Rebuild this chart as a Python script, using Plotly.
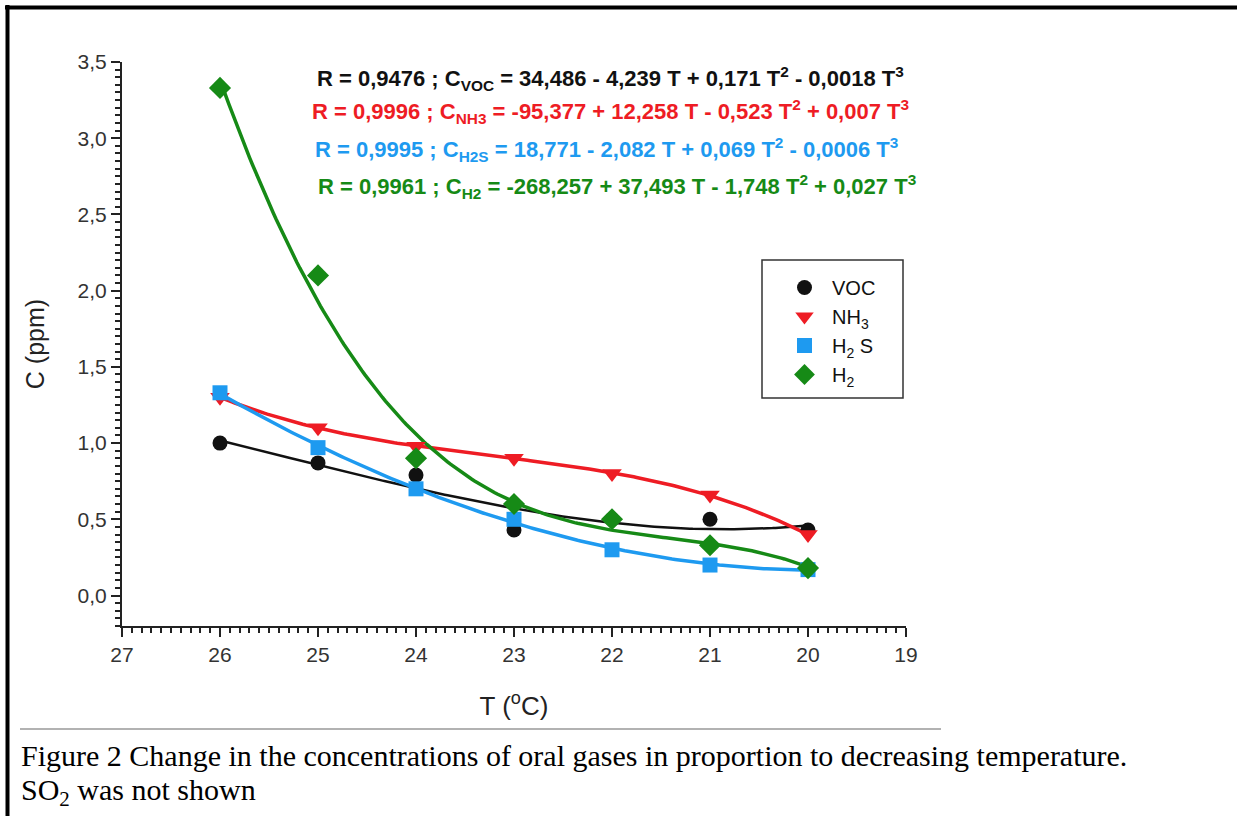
import numpy as np
import plotly.graph_objects as go

# ---- data ----
temperature = [26, 25, 24, 23, 22, 21, 20]
voc = [1.00, 0.87, 0.79, 0.43, 0.50, 0.50, 0.43]
nh3 = [1.30, 1.10, 0.98, 0.90, 0.80, 0.66, 0.40]
h2s = [1.33, 0.97, 0.70, 0.50, 0.30, 0.20, 0.17]
h2 = [3.33, 2.10, 0.90, 0.60, 0.50, 0.33, 0.18]

series_names = ["VOC", "NH<sub>3</sub>", "H<sub>2</sub> S", "H<sub>2</sub>"]
series_values = [voc, nh3, h2s, h2]
colors = ["#111111", "#ee1c24", "#1e9af0", "#168a16"]
symbols = ["circle", "triangle-down", "square", "diamond"]
marker_sizes = [15, 17, 15, 17]
line_widths = [2.5, 3.5, 3.5, 3.5]

equations = [
    "R = 0,9476 ; C<sub>VOC</sub> = 34,486 - 4,239 T + 0,171 T<sup>2</sup> - 0,0018 T<sup>3</sup>",
    "R = 0,9996 ; C<sub>NH3</sub> = -95,377 + 12,258 T - 0,523 T<sup>2</sup> + 0,007 T<sup>3</sup>",
    "R = 0,9995 ; C<sub>H2S</sub> = 18,771 - 2,082 T + 0,069 T<sup>2</sup> - 0,0006 T<sup>3</sup>",
    "R = 0,9961 ; C<sub>H2</sub> = -268,257 + 37,493 T - 1,748 T<sup>2</sup> + 0,027 T<sup>3</sup>",
]

# ---- layout geometry (pixels) ----
W, H = 1237, 816
L, R_, T_, B_ = 122, 906, 62, 626


def px(x):
    return (x - L) / (R_ - L)


def py(y):
    return (B_ - y) / (B_ - T_)


SANS = "Liberation Sans"
SERIF = "Liberation Serif"

fig = go.Figure()

# cubic regression curves (as in the original), computed from the data
t_fit = np.linspace(min(temperature), max(temperature), 200)
for vals, c, lw in zip(series_values, colors, line_widths):
    coef = np.polyfit(temperature, vals, 3)
    fig.add_trace(go.Scatter(x=t_fit, y=np.polyval(coef, t_fit), mode="lines",
                             line=dict(color=c, width=lw), showlegend=False,
                             hoverinfo="skip"))

for name, vals, c, s, ms in zip(series_names, series_values, colors, symbols, marker_sizes):
    fig.add_trace(go.Scatter(x=temperature, y=vals, mode="markers", name=name,
                             marker=dict(color=c, symbol=s, size=ms)))

axis_font = dict(family=SANS, size=21, color="#333333")

fig.update_xaxes(range=[27, 19], dtick=1, tick0=19, showgrid=False, zeroline=False,
                 showline=True, linecolor="#222222", linewidth=2,
                 ticks="outside", ticklen=9, tickwidth=2, tickcolor="#222222",
                 minor=dict(dtick=0.1, ticks="outside", ticklen=5, tickwidth=1.5,
                            tickcolor="#222222", showgrid=False),
                 tickfont=axis_font,
                 title=dict(text="T (<sup>o</sup>C)", font=dict(family=SANS, size=26, color="#222222"),
                            standoff=32))
fig.update_yaxes(range=[-0.2, 3.5], dtick=0.5, tick0=0, tickformat=".1f",
                 showgrid=False, zeroline=False,
                 showline=True, linecolor="#222222", linewidth=2,
                 ticks="outside", ticklen=9, tickwidth=2, tickcolor="#222222",
                 minor=dict(dtick=0.05, ticks="outside", ticklen=5, tickwidth=1.5,
                            tickcolor="#222222", showgrid=False),
                 tickfont=axis_font,
                 title=dict(text="C (ppm)", font=dict(family=SANS, size=25, color="#222222"),
                            standoff=26))

annotations = []
eq_centers = [(610, 78), (610, 112), (606, 149), (617, 186)]
for eq, c, (cx, cy) in zip(equations, colors, eq_centers):
    annotations.append(dict(text="<b>" + eq + "</b>", x=px(cx), y=py(cy), xref="paper",
                            yref="paper", showarrow=False, xanchor="center", yanchor="middle",
                            font=dict(family=SANS, size=22, color=c)))

caption_font = dict(family=SERIF, size=30, color="#000000")
annotations.append(dict(text="Figure 2 Change in the concentrations of oral gases in proportion to decreasing temperature.",
                        x=px(19), y=py(755), xref="paper", yref="paper", showarrow=False,
                        xanchor="left", yanchor="middle", font=caption_font))
annotations.append(dict(text="SO<sub>2</sub> was not shown",
                        x=px(19), y=py(792), xref="paper", yref="paper", showarrow=False,
                        xanchor="left", yanchor="middle", font=caption_font))

shapes = [
    dict(type="line", xref="paper", yref="paper", x0=px(7.5), x1=px(7.5), y0=py(5), y1=py(H),
         line=dict(color="#000000", width=4)),
    dict(type="line", xref="paper", yref="paper", x0=px(5), x1=px(W), y0=py(7.5), y1=py(7.5),
         line=dict(color="#000000", width=4)),
    dict(type="line", xref="paper", yref="paper", x0=px(20), x1=px(941), y0=py(729), y1=py(729),
         line=dict(color="#999999", width=1.5)),
    # legend frame
    dict(type="rect", xref="paper", yref="paper", x0=px(762), x1=px(903), y0=py(398), y1=py(260),
         line=dict(color="#333333", width=1.5), fillcolor="rgba(0,0,0,0)"),
]

fig.update_layout(
    width=W, height=H,
    margin=dict(l=L, r=W - R_, t=T_, b=H - B_, autoexpand=False),
    paper_bgcolor="white", plot_bgcolor="white",
    separators=",.",
    showlegend=True,
    legend=dict(x=px(777), y=py(268), xanchor="left", yanchor="top",
                borderwidth=0, bgcolor="rgba(0,0,0,0)",
                font=dict(family=SANS, size=20, color="#111111"),
                itemwidth=45, tracegroupgap=0),
    annotations=annotations,
    shapes=shapes,
)

fig.write_html("out.html", config={"displayModeBar": False},
               post_script="document.body.style.margin='0';")
